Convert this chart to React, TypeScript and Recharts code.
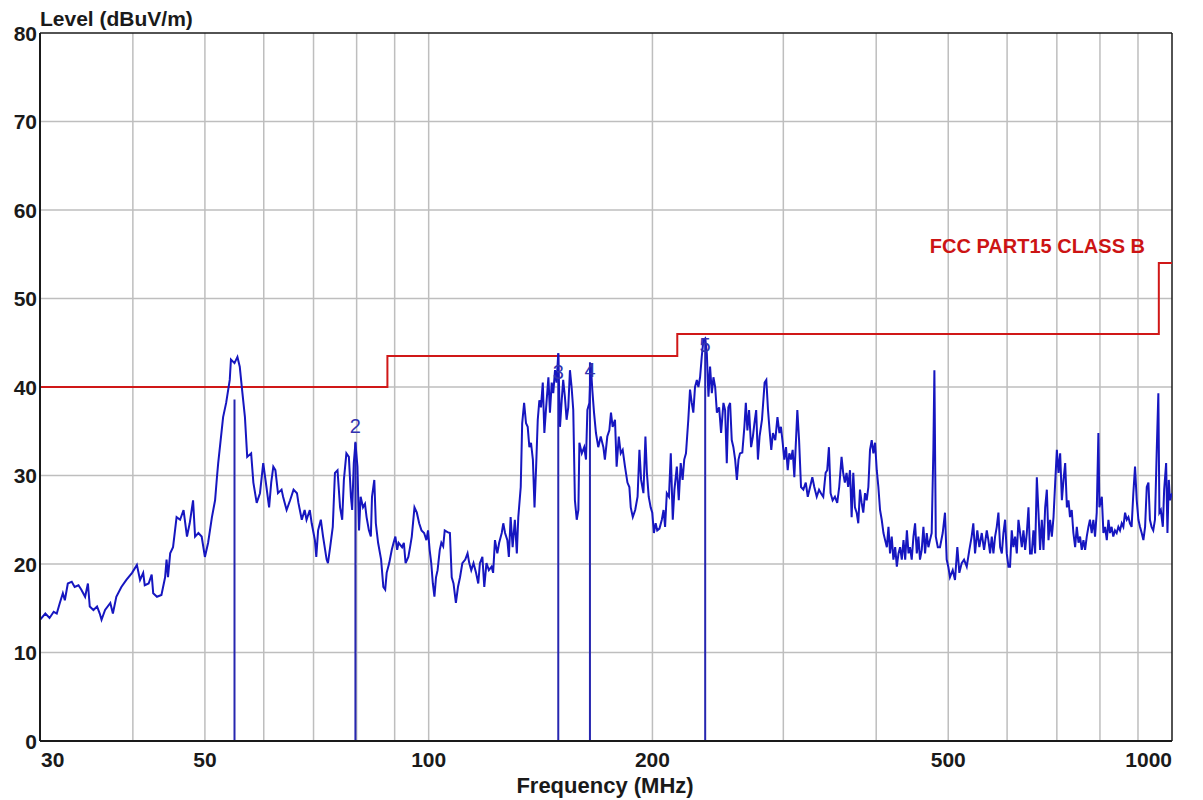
import React from 'react';
import { ComposedChart, Line, XAxis, YAxis, CartesianGrid, ReferenceLine, Scatter } from 'recharts';

// ---------- data ----------
const xTicks = [30, 50, 100, 200, 500, 1000];
const yTicks = [0, 10, 20, 30, 40, 50, 60, 70, 80];
const gridFreqs = [40, 50, 60, 70, 80, 90, 100, 200, 300, 400, 500, 600, 700, 800, 900];
const gridLevels = [10, 20, 30, 40, 50, 60, 70];

// FCC Part 15 Class B limit (MHz, dBuV/m)
const limitFreq = [30, 88, 88, 216, 216, 960, 960, 1000];
const limitLevel = [40, 40, 43.5, 43.5, 46, 46, 54, 54];

// markers
const markerIds = ['1', '2', '3', '4', '5'];
const markerFreq = [54.8, 79.7, 149.4, 164.8, 235.5];
const markerLevel = [38.6, 33.8, 43.8, 42.8, 45.5];
const markerLabelIds = ['2', '3', '4', '5'];
const markerLabelFreq = [79.7, 149.4, 164.8, 235.5];
const markerLabelLevel = [35.6, 41.7, 41.9, 44.7];

// measured trace [MHz, dBuV/m]
const trace30to60 = [
  [30.0, 13.7], [30.5, 14.4], [30.9, 13.9], [31.3, 14.6], [31.6, 14.4], [31.9, 15.6], [32.2, 16.7], [32.4, 15.9],
  [32.7, 17.8], [33.1, 18.0], [33.4, 17.4], [33.8, 17.6], [34.1, 17.1], [34.5, 16.3], [34.8, 17.8], [35.0, 15.2],
  [35.4, 14.8], [35.8, 15.2], [36.1, 14.4], [36.3, 13.7], [36.7, 14.8], [37.3, 15.6], [37.6, 14.4], [38.0, 16.3],
  [38.6, 17.4], [39.2, 18.2], [39.9, 19.0], [40.5, 19.9], [40.9, 18.2], [41.3, 19.0], [41.5, 17.6], [42.0, 17.8],
  [42.4, 18.8], [42.6, 16.7], [43.1, 16.3], [43.7, 16.5], [44.2, 18.5], [44.4, 20.5], [44.6, 18.5], [44.9, 21.2],
  [45.3, 21.9], [45.8, 25.3], [46.3, 25.0], [46.8, 26.1], [47.3, 23.1], [47.7, 24.6], [48.2, 27.2], [48.5, 23.1],
  [49.0, 23.5], [49.5, 23.1], [50.0, 20.8], [50.5, 22.4], [51.1, 25.3], [51.6, 27.2], [51.9, 29.8], [52.1, 31.4],
  [52.5, 34.0], [52.9, 36.6], [53.4, 38.2], [54.0, 40.8], [54.2, 43.1], [54.8, 42.7], [55.3, 43.4], [55.7, 42.3],
  [56.1, 39.7], [56.6, 36.6], [57.0, 32.1], [57.7, 32.5], [58.1, 29.2], [58.7, 26.9], [59.3, 28.0], [59.9, 31.4],
  [60.5, 28.7],
];
const trace61to122 = [
  [61.0, 26.4], [61.4, 29.2], [61.8, 31.0], [62.2, 30.6], [62.7, 28.0], [63.4, 28.4], [63.7, 27.6], [64.4, 26.1],
  [65.1, 27.2], [65.8, 28.4], [66.5, 28.0], [66.8, 26.9], [67.5, 25.0], [68.1, 26.1], [68.5, 25.0], [69.2, 26.1],
  [69.6, 24.6], [70.3, 22.7], [70.6, 20.8], [71.0, 23.8], [71.6, 25.0], [72.1, 23.1], [72.9, 20.5], [73.2, 20.1],
  [73.7, 21.9], [74.3, 24.2], [74.8, 30.3], [75.4, 30.6], [76.0, 26.4], [76.5, 25.0], [76.9, 29.5], [77.5, 32.5],
  [78.1, 32.1], [78.6, 27.6], [78.9, 26.1], [79.3, 31.4], [79.7, 33.7], [80.2, 31.0], [80.6, 23.8], [81.0, 27.6],
  [81.6, 26.4], [82.1, 26.8], [82.5, 25.3], [83.1, 23.8], [83.6, 23.1], [83.9, 27.6], [84.5, 29.5], [84.9, 24.6],
  [85.5, 22.4], [86.3, 20.5], [86.9, 17.4], [87.4, 17.1], [87.8, 19.0], [88.5, 20.1], [89.2, 21.6], [89.7, 22.4],
  [90.2, 23.1], [90.7, 21.6], [91.1, 22.4], [92.1, 21.9], [92.6, 22.4], [93.1, 20.1], [93.9, 20.8], [94.4, 21.9],
  [94.9, 23.1], [95.7, 26.4], [96.4, 25.8], [97.1, 24.6], [97.8, 23.8], [98.6, 23.5], [99.3, 22.7], [99.8, 23.8],
  [100.3, 21.6], [100.8, 20.1], [101.3, 17.8], [101.8, 16.3], [102.3, 18.5], [102.8, 19.3], [103.5, 21.6], [104.0, 22.4],
  [104.6, 22.0], [105.1, 23.8], [106.0, 23.6], [106.8, 23.5], [107.4, 18.5], [108.0, 17.8], [108.8, 15.6], [109.5, 17.4],
  [110.2, 18.5], [111.0, 20.1], [112.0, 20.5], [112.8, 21.2], [113.4, 20.1], [114.1, 19.3], [114.9, 20.1], [115.8, 19.0],
  [116.6, 17.8], [117.2, 20.1], [118.1, 20.8], [118.8, 17.4], [119.6, 20.1], [120.5, 19.3], [121.5, 19.7], [122.1, 19.0],
];
const trace122to242 = [
  [122.8, 22.7], [123.7, 21.2], [124.4, 22.4], [125.4, 23.5], [126.0, 24.6], [126.7, 23.5], [127.6, 22.7], [128.2, 20.8],
  [128.9, 25.3], [129.7, 21.9], [130.6, 25.0], [131.4, 21.2], [132.0, 25.3], [133.0, 28.7], [133.6, 35.9], [134.4, 38.2],
  [135.2, 35.9], [135.9, 35.5], [136.6, 33.2], [137.3, 33.7], [138.1, 31.8], [138.8, 26.4], [139.5, 31.0], [140.2, 36.3],
  [140.9, 38.5], [141.6, 37.7], [142.4, 40.5], [143.1, 34.8], [143.8, 37.4], [144.9, 41.1], [145.6, 37.1], [146.4, 40.5],
  [147.1, 39.3], [147.9, 41.9], [148.6, 40.5], [149.4, 43.8], [150.2, 35.5], [151.0, 38.5], [151.7, 40.8], [152.5, 38.9],
  [153.3, 36.3], [154.1, 37.7], [154.9, 41.9], [155.7, 40.0], [156.5, 37.4], [157.3, 27.2], [158.2, 25.0], [159.0, 26.1],
  [159.5, 33.7], [160.7, 32.5], [161.9, 33.2], [162.8, 31.8], [163.5, 37.4], [164.5, 38.2], [165.2, 42.7], [166.0, 39.7],
  [166.9, 37.1], [167.9, 34.8], [169.1, 33.2], [170.4, 34.4], [171.8, 33.2], [172.6, 31.8], [173.9, 34.4], [175.0, 35.1],
  [175.9, 37.1], [176.8, 35.5], [178.1, 36.3], [179.0, 31.0], [180.2, 34.4], [181.3, 32.5], [182.4, 32.9], [183.7, 31.0],
  [185.1, 29.2], [186.2, 28.7], [187.0, 26.4], [188.2, 25.3], [189.6, 26.1], [191.0, 27.6], [192.1, 32.9], [193.1, 29.5],
  [194.5, 28.0], [195.7, 34.4], [196.6, 30.3], [197.7, 27.6], [198.9, 26.4], [199.9, 25.8], [200.9, 23.5], [202.0, 24.6],
  [203.0, 23.8], [204.4, 24.0], [205.9, 25.0], [207.0, 26.1], [208.0, 24.2], [209.1, 28.0], [210.5, 27.6], [211.7, 32.5],
  [213.0, 25.0], [214.1, 28.4], [215.7, 31.0], [217.0, 27.2], [218.3, 31.4], [219.6, 29.5], [220.7, 31.8], [221.9, 32.5],
  [223.5, 36.3], [224.7, 39.7], [225.9, 38.2], [227.0, 37.1], [228.2, 40.0], [229.5, 40.8], [230.6, 40.0], [231.8, 41.1],
  [233.0, 43.4], [234.2, 45.3], [235.5, 45.5], [236.7, 43.8], [237.9, 38.9], [239.1, 42.3], [240.4, 39.3], [241.6, 41.1],
];
const trace243to485 = [
  [242.9, 40.0], [244.2, 37.1], [245.9, 37.7], [247.4, 34.8], [249.2, 38.2], [250.5, 37.4], [251.8, 31.4], [253.0, 37.7],
  [254.4, 38.2], [255.7, 34.0], [257.0, 33.2], [258.4, 31.8], [259.8, 29.5], [261.1, 31.8], [262.3, 32.5], [264.2, 32.6],
  [265.9, 35.5], [267.1, 38.2], [268.4, 35.1], [269.8, 37.4], [271.5, 33.2], [273.0, 34.4], [274.3, 35.9], [275.8, 37.4],
  [277.3, 31.8], [278.7, 34.4], [280.8, 36.3], [283.1, 40.5], [284.6, 40.8], [286.1, 37.4], [287.5, 35.1], [289.0, 32.9],
  [290.5, 34.8], [292.6, 34.0], [294.6, 36.6], [296.4, 34.8], [297.8, 35.5], [299.4, 33.7], [300.9, 31.8], [302.5, 33.2],
  [304.1, 30.6], [305.6, 32.5], [307.2, 31.8], [308.8, 32.9], [310.4, 29.8], [312.0, 34.0], [313.3, 37.4], [315.0, 34.0],
  [316.9, 28.7], [319.2, 28.4], [321.6, 29.2], [323.6, 27.6], [325.9, 28.7], [328.2, 29.8], [330.2, 28.7], [332.7, 27.6],
  [335.1, 28.4], [337.1, 28.0], [339.5, 27.6], [342.0, 30.3], [343.7, 30.6], [345.5, 33.2], [347.3, 28.0], [349.5, 27.2],
  [352.0, 27.6], [354.5, 26.9], [356.7, 28.7], [359.3, 32.1], [361.1, 30.3], [363.0, 29.2], [364.9, 30.3], [366.7, 28.7],
  [368.8, 30.6], [370.7, 25.3], [372.6, 30.3], [374.5, 26.4], [376.5, 25.8], [378.4, 24.6], [380.4, 28.4], [382.4, 26.9],
  [384.3, 25.8], [386.4, 28.0], [388.4, 27.2], [390.4, 28.7], [392.4, 32.9], [394.5, 34.0], [396.5, 32.5], [398.6, 33.7],
  [400.7, 30.6], [402.7, 28.7], [404.8, 26.1], [406.9, 25.0], [409.1, 23.5], [411.2, 22.7], [413.4, 21.9], [415.5, 24.2],
  [417.5, 21.2], [419.7, 23.1], [421.9, 20.5], [424.2, 21.9], [426.4, 19.7], [428.6, 21.2], [430.7, 21.9], [433.0, 20.5],
  [435.3, 22.7], [437.6, 20.5], [439.9, 23.8], [442.1, 21.2], [444.1, 21.9], [446.5, 20.5], [448.9, 23.1], [451.2, 24.6],
  [453.6, 21.2], [455.9, 23.1], [458.1, 20.5], [460.6, 21.6], [463.0, 24.2], [465.4, 21.2], [467.8, 23.5], [470.2, 21.9],
  [472.5, 22.7], [475.0, 23.5], [477.5, 32.9], [479.0, 41.9], [481.1, 23.1], [484.1, 21.9],
];
const trace487to1000 = [
  [487.4, 21.9], [491.5, 23.5], [495.0, 25.8], [497.6, 20.5], [500.1, 19.7], [502.7, 18.5], [507.0, 19.3], [510.6, 18.2],
  [514.3, 21.9], [517.5, 19.0], [521.3, 20.1], [525.1, 20.5], [529.5, 19.7], [533.8, 21.6], [537.6, 23.1], [540.4, 24.6],
  [543.3, 21.2], [547.1, 23.8], [550.6, 21.9], [554.7, 23.5], [558.7, 21.6], [563.4, 23.8], [566.2, 22.7], [569.2, 21.2],
  [572.2, 23.1], [575.1, 21.2], [578.1, 23.1], [581.1, 24.2], [584.1, 25.8], [587.2, 21.9], [590.3, 21.2], [593.2, 23.5],
  [596.3, 25.0], [599.4, 21.2], [602.5, 19.7], [605.5, 19.7], [608.7, 23.8], [611.8, 21.9], [615.1, 23.1], [618.3, 21.2],
  [621.5, 25.0], [624.7, 23.5], [628.0, 21.9], [631.2, 23.8], [634.5, 21.6], [637.8, 23.5], [641.1, 26.4], [644.2, 21.2],
  [647.6, 21.2], [651.0, 23.8], [654.4, 21.2], [657.9, 29.8], [661.3, 25.8], [664.6, 21.6], [668.1, 25.0], [671.6, 21.6],
  [675.1, 26.4], [678.6, 28.4], [682.1, 22.7], [685.5, 25.0], [689.2, 23.1], [692.8, 25.3], [696.4, 29.2], [700.0, 32.9],
  [703.6, 30.3], [707.2, 32.5], [711.0, 27.2], [714.6, 29.5], [718.3, 31.4], [722.1, 26.4], [725.7, 27.2], [729.1, 25.3],
  [733.0, 26.1], [736.8, 23.5], [740.8, 21.9], [744.6, 24.2], [748.5, 22.4], [752.2, 23.1], [756.1, 21.6], [760.1, 22.7],
  [764.0, 21.6], [767.9, 23.1], [771.9, 24.2], [775.6, 25.0], [779.8, 23.5], [783.8, 25.0], [787.9, 23.1], [792.0, 25.8],
  [796.1, 34.8], [798.6, 26.4], [804.6, 27.6], [808.6, 23.5], [812.8, 24.2], [817.1, 22.7], [821.3, 25.0], [825.1, 23.5],
  [829.4, 24.2], [833.7, 23.1], [838.1, 23.8], [842.5, 23.5], [846.9, 24.2], [851.2, 23.8], [855.8, 24.6], [860.1, 24.2],
  [864.7, 25.8], [869.3, 25.0], [873.7, 25.3], [877.8, 24.6], [882.4, 24.2], [887.1, 28.0], [891.8, 31.0], [896.5, 27.2],
  [901.2, 25.0], [905.6, 24.2], [910.4, 23.5], [915.2, 22.7], [920.0, 24.2], [924.8, 28.7], [929.6, 29.2], [933.9, 25.0],
  [938.7, 24.2], [943.6, 23.8], [948.6, 25.0], [953.6, 32.5], [958.6, 39.3], [961.7, 25.8], [966.0, 26.1], [972.0, 24.2],
  [976.0, 28.4], [982.0, 31.4], [986.0, 23.5], [990.2, 29.5], [993.7, 27.2], [1000, 28.0],
];

// ---------- derived tables ----------
const traceData = [...trace30to60, ...trace61to122, ...trace122to242, ...trace243to485, ...trace487to1000].map(
  ([f, v]) => ({ f, v })
);
const limitData = limitFreq.map((f, i) => ({ f, v: limitLevel[i] }));
const markerLabelData = markerLabelFreq.map((f, i) => ({ f, v: markerLabelLevel[i], id: markerLabelIds[i] }));

const FONT = '"Liberation Sans", Arial, Helvetica, sans-serif';
const W = 1195;
const H = 790;

const XTick = (props: any) => {
  const { x, payload } = props;
  const v = payload.value;
  const anchor = v === 30 ? 'start' : v === 1000 ? 'end' : 'middle';
  return (
    <text x={v === 30 ? x + 1 : x} y={759} textAnchor={anchor} fontSize={21} fontWeight="bold" fill="#1a1a1a" fontFamily={FONT}>
      {v}
    </text>
  );
};

const YTick = (props: any) => {
  const { y, payload } = props;
  return (
    <text x={29} y={y + 7.5} textAnchor="end" fontSize={21} fontWeight="bold" fill="#1a1a1a" fontFamily={FONT}>
      {payload.value}
    </text>
  );
};

const MarkerLabel = (props: any) => {
  const { cx, cy, payload } = props;
  return (
    <text x={cx} y={cy + 7} textAnchor="middle" fontSize={20} fill="#3232b0" fontFamily={FONT}>
      {payload.id}
    </text>
  );
};

export default function App() {
  return (
    <div style={{ position: 'relative', width: W, height: H, fontFamily: FONT }}>
      <ComposedChart width={W} height={H} margin={{ top: 25, right: 31, bottom: 0, left: 0 }}>
        <CartesianGrid
          stroke="#bebebe"
          strokeWidth={1.5}
          verticalValues={gridFreqs}
          horizontalValues={gridLevels}
        />
        <XAxis
          type="number"
          dataKey="f"
          scale="log"
          domain={[30, 1000]}
          allowDataOverflow
          ticks={xTicks}
          interval={0}
          height={57}
          axisLine={{ stroke: '#1a1a1a', strokeWidth: 2 }}
          tickLine={false}
          tick={XTick}
        />
        <YAxis
          type="number"
          dataKey="v"
          domain={[0, 80]}
          allowDataOverflow
          ticks={yTicks}
          interval={0}
          width={32}
          axisLine={{ stroke: '#1a1a1a', strokeWidth: 2 }}
          tickLine={false}
          tick={YTick}
        />
        <ReferenceLine y={80} stroke="#1a1a1a" strokeWidth={1.5} />
        <ReferenceLine x={1000} stroke="#1a1a1a" strokeWidth={1.5} />
        <Line
          data={limitData}
          dataKey="v"
          type="linear"
          stroke="#d01818"
          strokeWidth={2}
          dot={false}
          isAnimationActive={false}
        />
        {markerIds.map((id, i) => (
          <ReferenceLine
            key={id}
            segment={[{ x: markerFreq[i], y: 0 }, { x: markerFreq[i], y: markerLevel[i] }]}
            stroke="#2626b0"
            strokeWidth={2}
          />
        ))}
        <Line
          data={traceData}
          dataKey="v"
          type="linear"
          stroke="#1616c0"
          strokeWidth={2}
          dot={false}
          isAnimationActive={false}
        />
        <Scatter data={markerLabelData} dataKey="v" shape={MarkerLabel} isAnimationActive={false} />
      </ComposedChart>
      <div style={{ position: 'absolute', left: 32, top: 0, fontSize: 21, lineHeight: '21px', fontWeight: 'bold', color: '#1a1a1a', whiteSpace: 'nowrap' }}>
        Level (dBuV/m)
      </div>
      <div style={{ position: 'absolute', right: W - 1137, top: 228, fontSize: 20, lineHeight: '20px', fontWeight: 'bold', color: '#cc1414', whiteSpace: 'nowrap' }}>
        FCC PART15 CLASS B
      </div>
      <div style={{ position: 'absolute', left: 597 - 150, width: 300, top: 767, textAlign: 'center', fontSize: 22, lineHeight: '22px', fontWeight: 'bold', color: '#1a1a1a', whiteSpace: 'nowrap' }}>
        Frequency (MHz)
      </div>
    </div>
  );
}
